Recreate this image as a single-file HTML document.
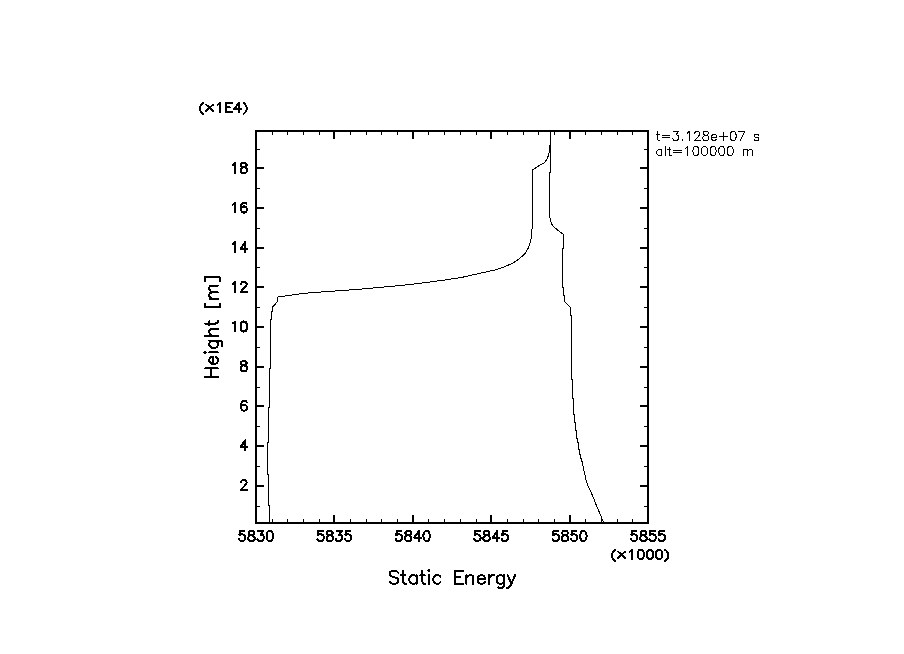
<!DOCTYPE html>
<html><head><meta charset="utf-8"><style>
html,body{margin:0;padding:0;background:#fff;width:904px;height:654px;overflow:hidden}
svg{display:block}
</style></head><body>
<svg width="904" height="654" viewBox="0 0 904 654">
<rect width="904" height="654" fill="#fff"/>
<g fill="#000" shape-rendering="crispEdges">
<rect x="255" y="130" width="394" height="2"/>
<rect x="255" y="522" width="394" height="2"/>
<rect x="255" y="130" width="2" height="394"/>
<rect x="647" y="130" width="2" height="394"/>
<rect x="257" y="506" width="3" height="1"/>
<rect x="644" y="506" width="3" height="1"/>
<rect x="257" y="485" width="7" height="2"/>
<rect x="640" y="485" width="7" height="2"/>
<rect x="257" y="466" width="3" height="1"/>
<rect x="644" y="466" width="3" height="1"/>
<rect x="257" y="445" width="7" height="2"/>
<rect x="640" y="445" width="7" height="2"/>
<rect x="257" y="426" width="3" height="1"/>
<rect x="644" y="426" width="3" height="1"/>
<rect x="257" y="405" width="7" height="2"/>
<rect x="640" y="405" width="7" height="2"/>
<rect x="257" y="387" width="3" height="1"/>
<rect x="644" y="387" width="3" height="1"/>
<rect x="257" y="366" width="7" height="2"/>
<rect x="640" y="366" width="7" height="2"/>
<rect x="257" y="347" width="3" height="1"/>
<rect x="644" y="347" width="3" height="1"/>
<rect x="257" y="326" width="7" height="2"/>
<rect x="640" y="326" width="7" height="2"/>
<rect x="257" y="307" width="3" height="1"/>
<rect x="644" y="307" width="3" height="1"/>
<rect x="257" y="286" width="7" height="2"/>
<rect x="640" y="286" width="7" height="2"/>
<rect x="257" y="267" width="3" height="1"/>
<rect x="644" y="267" width="3" height="1"/>
<rect x="257" y="247" width="7" height="2"/>
<rect x="640" y="247" width="7" height="2"/>
<rect x="257" y="228" width="3" height="1"/>
<rect x="644" y="228" width="3" height="1"/>
<rect x="257" y="207" width="7" height="2"/>
<rect x="640" y="207" width="7" height="2"/>
<rect x="257" y="188" width="3" height="1"/>
<rect x="644" y="188" width="3" height="1"/>
<rect x="257" y="167" width="7" height="2"/>
<rect x="640" y="167" width="7" height="2"/>
<rect x="257" y="149" width="3" height="1"/>
<rect x="644" y="149" width="3" height="1"/>
<rect x="272" y="132" width="1" height="3"/>
<rect x="272" y="519" width="1" height="3"/>
<rect x="287" y="132" width="1" height="3"/>
<rect x="287" y="519" width="1" height="3"/>
<rect x="303" y="132" width="1" height="3"/>
<rect x="303" y="519" width="1" height="3"/>
<rect x="319" y="132" width="1" height="3"/>
<rect x="319" y="519" width="1" height="3"/>
<rect x="333" y="132" width="2" height="7"/>
<rect x="333" y="515" width="2" height="7"/>
<rect x="350" y="132" width="1" height="3"/>
<rect x="350" y="519" width="1" height="3"/>
<rect x="366" y="132" width="1" height="3"/>
<rect x="366" y="519" width="1" height="3"/>
<rect x="381" y="132" width="1" height="3"/>
<rect x="381" y="519" width="1" height="3"/>
<rect x="397" y="132" width="1" height="3"/>
<rect x="397" y="519" width="1" height="3"/>
<rect x="412" y="132" width="2" height="7"/>
<rect x="412" y="515" width="2" height="7"/>
<rect x="428" y="132" width="1" height="3"/>
<rect x="428" y="519" width="1" height="3"/>
<rect x="444" y="132" width="1" height="3"/>
<rect x="444" y="519" width="1" height="3"/>
<rect x="460" y="132" width="1" height="3"/>
<rect x="460" y="519" width="1" height="3"/>
<rect x="476" y="132" width="1" height="3"/>
<rect x="476" y="519" width="1" height="3"/>
<rect x="490" y="132" width="2" height="7"/>
<rect x="490" y="515" width="2" height="7"/>
<rect x="507" y="132" width="1" height="3"/>
<rect x="507" y="519" width="1" height="3"/>
<rect x="523" y="132" width="1" height="3"/>
<rect x="523" y="519" width="1" height="3"/>
<rect x="538" y="132" width="1" height="3"/>
<rect x="538" y="519" width="1" height="3"/>
<rect x="554" y="132" width="1" height="3"/>
<rect x="554" y="519" width="1" height="3"/>
<rect x="569" y="132" width="2" height="7"/>
<rect x="569" y="515" width="2" height="7"/>
<rect x="585" y="132" width="1" height="3"/>
<rect x="585" y="519" width="1" height="3"/>
<rect x="601" y="132" width="1" height="3"/>
<rect x="601" y="519" width="1" height="3"/>
<rect x="617" y="132" width="1" height="3"/>
<rect x="617" y="519" width="1" height="3"/>
<rect x="632" y="132" width="1" height="3"/>
<rect x="632" y="519" width="1" height="3"/>
</g>
<g fill="none" stroke="#000" stroke-width="1" shape-rendering="crispEdges">
<polyline points="269.50,523.00 269.50,505.50 268.50,505.50 268.50,474.00 267.50,474.00 267.50,442.00 268.50,442.00 268.50,407.00 269.50,407.00 269.50,368.00 270.50,368.00 270.50,319.00 271.50,319.00 271.50,311.00 272.50,311.00 272.50,307.00 273.50,306.00 277.50,301.60 277.50,297.30 280.00,296.50 282.00,296.50 289.00,295.50 295.00,294.50 302.50,293.50 314.00,292.50 328.40,291.50 342.50,290.50 355.80,289.50 367.60,288.50 378.50,287.50 389.60,286.50 400.00,285.50 411.00,284.50 417.30,283.50 425.90,282.50 433.90,281.50 441.20,280.50 448.20,279.50 454.80,278.50 461.10,277.50 467.00,276.30 478.00,273.70 487.90,271.50 496.50,269.60 502.50,267.60 507.20,265.60 513.10,262.90 517.80,259.90 522.40,256.00 525.10,253.30 527.10,249.80 528.00,248.50 529.20,245.50 530.20,242.50 531.20,238.50 531.60,232.00 532.10,228.00 532.50,225.00 532.50,170.00 535.00,168.50 540.30,164.70 544.10,163.20 546.40,160.10 547.90,157.00 548.70,153.60 549.60,150.90 549.80,145.20 550.50,143.30 550.50,131.00"/>
<polyline points="550.50,131.00 550.50,172.50 549.50,172.50 549.50,216.00 550.30,219.50 551.20,222.50 552.20,225.00 554.10,227.10 557.90,230.20 562.90,234.00 563.50,234.50 563.50,248.00 562.50,248.50 562.50,287.00 563.50,287.00 563.50,295.40 564.50,295.50 564.50,301.30 569.50,306.50 570.50,307.50 570.50,315.30 571.50,315.50 571.50,379.30 572.50,379.50 572.50,398.30 573.50,398.50 573.50,414.30 574.50,414.50 574.50,422.00 575.50,422.20 575.50,430.40 576.50,430.60 576.50,438.00 577.50,438.20 577.50,442.00 578.50,442.20 578.50,449.50 579.50,449.70 579.50,454.00 580.50,454.20 580.50,458.00 581.50,458.20 581.50,461.70 582.50,462.00 582.90,465.30 583.80,470.00 585.90,479.20 587.20,483.90 590.50,491.00 593.10,496.90 595.60,503.60 598.50,510.30 601.00,516.20 602.70,520.40 603.50,523.00"/>
</g>
<g fill="none" stroke="#000" stroke-width="2" stroke-linecap="round" stroke-linejoin="round" shape-rendering="crispEdges">
<polyline points="241.04,482.38 241.04,481.91 241.50,480.96 241.96,480.48 242.88,480.00 244.72,480.00 245.64,480.48 246.10,480.96 246.56,481.91 246.56,482.86 246.10,483.81 245.18,485.24 240.58,490.00 247.02,490.00"/>
<polyline points="245.18,440.38 240.58,447.04 247.48,447.04"/>
<polyline points="245.18,440.38 245.18,450.38"/>
<polyline points="246.56,402.18 246.10,401.23 244.72,400.75 243.80,400.75 242.42,401.23 241.50,402.66 241.04,405.04 241.04,407.42 241.50,409.32 242.42,410.27 243.80,410.75 244.26,410.75 245.64,410.27 246.56,409.32 247.02,407.89 247.02,407.42 246.56,405.99 245.64,405.04 244.26,404.56 243.80,404.56 242.42,405.04 241.50,405.99 241.04,407.42"/>
<polyline points="242.88,361.13 241.50,361.61 241.04,362.56 241.04,363.51 241.50,364.46 242.42,364.94 244.26,365.41 245.64,365.89 246.56,366.84 247.02,367.79 247.02,369.22 246.56,370.17 246.10,370.65 244.72,371.12 242.88,371.12 241.50,370.65 241.04,370.17 240.58,369.22 240.58,367.79 241.04,366.84 241.96,365.89 243.34,365.41 245.18,364.94 246.10,364.46 246.56,363.51 246.56,362.56 246.10,361.61 244.72,361.13 242.88,361.13"/>
<polyline points="232.76,323.41 233.68,322.93 235.06,321.50 235.06,331.50"/>
<polyline points="243.34,321.50 241.96,321.98 241.04,323.41 240.58,325.79 240.58,327.22 241.04,329.60 241.96,331.02 243.34,331.50 244.26,331.50 245.64,331.02 246.56,329.60 247.02,327.22 247.02,325.79 246.56,323.41 245.64,321.98 244.26,321.50 243.34,321.50"/>
<polyline points="232.76,283.78 233.68,283.31 235.06,281.88 235.06,291.88"/>
<polyline points="241.04,284.26 241.04,283.78 241.50,282.83 241.96,282.36 242.88,281.88 244.72,281.88 245.64,282.36 246.10,282.83 246.56,283.78 246.56,284.74 246.10,285.69 245.18,287.12 240.58,291.88 247.02,291.88"/>
<polyline points="232.76,244.16 233.68,243.68 235.06,242.25 235.06,252.25"/>
<polyline points="245.18,242.25 240.58,248.92 247.48,248.92"/>
<polyline points="245.18,242.25 245.18,252.25"/>
<polyline points="232.76,204.53 233.68,204.06 235.06,202.63 235.06,212.62"/>
<polyline points="246.56,204.06 246.10,203.10 244.72,202.63 243.80,202.63 242.42,203.10 241.50,204.53 241.04,206.91 241.04,209.29 241.50,211.20 242.42,212.15 243.80,212.62 244.26,212.62 245.64,212.15 246.56,211.20 247.02,209.77 247.02,209.29 246.56,207.87 245.64,206.91 244.26,206.44 243.80,206.44 242.42,206.91 241.50,207.87 241.04,209.29"/>
<polyline points="232.76,164.91 233.68,164.43 235.06,163.00 235.06,173.00"/>
<polyline points="242.88,163.00 241.50,163.48 241.04,164.43 241.04,165.38 241.50,166.34 242.42,166.81 244.26,167.29 245.64,167.76 246.56,168.72 247.02,169.67 247.02,171.10 246.56,172.05 246.10,172.52 244.72,173.00 242.88,173.00 241.50,172.52 241.04,172.05 240.58,171.10 240.58,169.67 241.04,168.72 241.96,167.76 243.34,167.29 245.18,166.81 246.10,166.34 246.56,165.38 246.56,164.43 246.10,163.48 244.72,163.00 242.88,163.00"/>
<polyline points="244.50,531.00 239.90,531.00 239.44,535.29 239.90,534.81 241.28,534.34 242.66,534.34 244.04,534.81 244.96,535.76 245.42,537.19 245.42,538.14 244.96,539.57 244.04,540.52 242.66,541.00 241.28,541.00 239.90,540.52 239.44,540.05 238.98,539.10"/>
<polyline points="250.48,531.00 249.10,531.48 248.64,532.43 248.64,533.38 249.10,534.34 250.02,534.81 251.86,535.29 253.24,535.76 254.16,536.72 254.62,537.67 254.62,539.10 254.16,540.05 253.70,540.52 252.32,541.00 250.48,541.00 249.10,540.52 248.64,540.05 248.18,539.10 248.18,537.67 248.64,536.72 249.56,535.76 250.94,535.29 252.78,534.81 253.70,534.34 254.16,533.38 254.16,532.43 253.70,531.48 252.32,531.00 250.48,531.00"/>
<polyline points="258.30,531.00 263.36,531.00 260.60,534.81 261.98,534.81 262.90,535.29 263.36,535.76 263.82,537.19 263.82,538.14 263.36,539.57 262.44,540.52 261.06,541.00 259.68,541.00 258.30,540.52 257.84,540.05 257.38,539.10"/>
<polyline points="269.34,531.00 267.96,531.48 267.04,532.91 266.58,535.29 266.58,536.72 267.04,539.10 267.96,540.52 269.34,541.00 270.26,541.00 271.64,540.52 272.56,539.10 273.02,536.72 273.02,535.29 272.56,532.91 271.64,531.48 270.26,531.00 269.34,531.00"/>
<polyline points="322.90,531.00 318.30,531.00 317.84,535.29 318.30,534.81 319.68,534.34 321.06,534.34 322.44,534.81 323.36,535.76 323.82,537.19 323.82,538.14 323.36,539.57 322.44,540.52 321.06,541.00 319.68,541.00 318.30,540.52 317.84,540.05 317.38,539.10"/>
<polyline points="328.88,531.00 327.50,531.48 327.04,532.43 327.04,533.38 327.50,534.34 328.42,534.81 330.26,535.29 331.64,535.76 332.56,536.72 333.02,537.67 333.02,539.10 332.56,540.05 332.10,540.52 330.72,541.00 328.88,541.00 327.50,540.52 327.04,540.05 326.58,539.10 326.58,537.67 327.04,536.72 327.96,535.76 329.34,535.29 331.18,534.81 332.10,534.34 332.56,533.38 332.56,532.43 332.10,531.48 330.72,531.00 328.88,531.00"/>
<polyline points="336.70,531.00 341.76,531.00 339.00,534.81 340.38,534.81 341.30,535.29 341.76,535.76 342.22,537.19 342.22,538.14 341.76,539.57 340.84,540.52 339.46,541.00 338.08,541.00 336.70,540.52 336.24,540.05 335.78,539.10"/>
<polyline points="350.50,531.00 345.90,531.00 345.44,535.29 345.90,534.81 347.28,534.34 348.66,534.34 350.04,534.81 350.96,535.76 351.42,537.19 351.42,538.14 350.96,539.57 350.04,540.52 348.66,541.00 347.28,541.00 345.90,540.52 345.44,540.05 344.98,539.10"/>
<polyline points="401.30,531.00 396.70,531.00 396.24,535.29 396.70,534.81 398.08,534.34 399.46,534.34 400.84,534.81 401.76,535.76 402.22,537.19 402.22,538.14 401.76,539.57 400.84,540.52 399.46,541.00 398.08,541.00 396.70,540.52 396.24,540.05 395.78,539.10"/>
<polyline points="407.28,531.00 405.90,531.48 405.44,532.43 405.44,533.38 405.90,534.34 406.82,534.81 408.66,535.29 410.04,535.76 410.96,536.72 411.42,537.67 411.42,539.10 410.96,540.05 410.50,540.52 409.12,541.00 407.28,541.00 405.90,540.52 405.44,540.05 404.98,539.10 404.98,537.67 405.44,536.72 406.36,535.76 407.74,535.29 409.58,534.81 410.50,534.34 410.96,533.38 410.96,532.43 410.50,531.48 409.12,531.00 407.28,531.00"/>
<polyline points="418.78,531.00 414.18,537.67 421.08,537.67"/>
<polyline points="418.78,531.00 418.78,541.00"/>
<polyline points="426.14,531.00 424.76,531.48 423.84,532.91 423.38,535.29 423.38,536.72 423.84,539.10 424.76,540.52 426.14,541.00 427.06,541.00 428.44,540.52 429.36,539.10 429.82,536.72 429.82,535.29 429.36,532.91 428.44,531.48 427.06,531.00 426.14,531.00"/>
<polyline points="479.70,531.00 475.10,531.00 474.64,535.29 475.10,534.81 476.48,534.34 477.86,534.34 479.24,534.81 480.16,535.76 480.62,537.19 480.62,538.14 480.16,539.57 479.24,540.52 477.86,541.00 476.48,541.00 475.10,540.52 474.64,540.05 474.18,539.10"/>
<polyline points="485.68,531.00 484.30,531.48 483.84,532.43 483.84,533.38 484.30,534.34 485.22,534.81 487.06,535.29 488.44,535.76 489.36,536.72 489.82,537.67 489.82,539.10 489.36,540.05 488.90,540.52 487.52,541.00 485.68,541.00 484.30,540.52 483.84,540.05 483.38,539.10 483.38,537.67 483.84,536.72 484.76,535.76 486.14,535.29 487.98,534.81 488.90,534.34 489.36,533.38 489.36,532.43 488.90,531.48 487.52,531.00 485.68,531.00"/>
<polyline points="497.18,531.00 492.58,537.67 499.48,537.67"/>
<polyline points="497.18,531.00 497.18,541.00"/>
<polyline points="507.30,531.00 502.70,531.00 502.24,535.29 502.70,534.81 504.08,534.34 505.46,534.34 506.84,534.81 507.76,535.76 508.22,537.19 508.22,538.14 507.76,539.57 506.84,540.52 505.46,541.00 504.08,541.00 502.70,540.52 502.24,540.05 501.78,539.10"/>
<polyline points="558.10,531.00 553.50,531.00 553.04,535.29 553.50,534.81 554.88,534.34 556.26,534.34 557.64,534.81 558.56,535.76 559.02,537.19 559.02,538.14 558.56,539.57 557.64,540.52 556.26,541.00 554.88,541.00 553.50,540.52 553.04,540.05 552.58,539.10"/>
<polyline points="564.08,531.00 562.70,531.48 562.24,532.43 562.24,533.38 562.70,534.34 563.62,534.81 565.46,535.29 566.84,535.76 567.76,536.72 568.22,537.67 568.22,539.10 567.76,540.05 567.30,540.52 565.92,541.00 564.08,541.00 562.70,540.52 562.24,540.05 561.78,539.10 561.78,537.67 562.24,536.72 563.16,535.76 564.54,535.29 566.38,534.81 567.30,534.34 567.76,533.38 567.76,532.43 567.30,531.48 565.92,531.00 564.08,531.00"/>
<polyline points="576.50,531.00 571.90,531.00 571.44,535.29 571.90,534.81 573.28,534.34 574.66,534.34 576.04,534.81 576.96,535.76 577.42,537.19 577.42,538.14 576.96,539.57 576.04,540.52 574.66,541.00 573.28,541.00 571.90,540.52 571.44,540.05 570.98,539.10"/>
<polyline points="582.94,531.00 581.56,531.48 580.64,532.91 580.18,535.29 580.18,536.72 580.64,539.10 581.56,540.52 582.94,541.00 583.86,541.00 585.24,540.52 586.16,539.10 586.62,536.72 586.62,535.29 586.16,532.91 585.24,531.48 583.86,531.00 582.94,531.00"/>
<polyline points="636.50,531.00 631.90,531.00 631.44,535.29 631.90,534.81 633.28,534.34 634.66,534.34 636.04,534.81 636.96,535.76 637.42,537.19 637.42,538.14 636.96,539.57 636.04,540.52 634.66,541.00 633.28,541.00 631.90,540.52 631.44,540.05 630.98,539.10"/>
<polyline points="642.48,531.00 641.10,531.48 640.64,532.43 640.64,533.38 641.10,534.34 642.02,534.81 643.86,535.29 645.24,535.76 646.16,536.72 646.62,537.67 646.62,539.10 646.16,540.05 645.70,540.52 644.32,541.00 642.48,541.00 641.10,540.52 640.64,540.05 640.18,539.10 640.18,537.67 640.64,536.72 641.56,535.76 642.94,535.29 644.78,534.81 645.70,534.34 646.16,533.38 646.16,532.43 645.70,531.48 644.32,531.00 642.48,531.00"/>
<polyline points="654.90,531.00 650.30,531.00 649.84,535.29 650.30,534.81 651.68,534.34 653.06,534.34 654.44,534.81 655.36,535.76 655.82,537.19 655.82,538.14 655.36,539.57 654.44,540.52 653.06,541.00 651.68,541.00 650.30,540.52 649.84,540.05 649.38,539.10"/>
<polyline points="664.10,531.00 659.50,531.00 659.04,535.29 659.50,534.81 660.88,534.34 662.26,534.34 663.64,534.81 664.56,535.76 665.02,537.19 665.02,538.14 664.56,539.57 663.64,540.52 662.26,541.00 660.88,541.00 659.50,540.52 659.04,540.05 658.58,539.10"/>
<polyline points="217.70,104.69 218.62,104.26 220.00,102.97 220.00,112.00"/>
<polyline points="225.98,102.97 225.98,112.00"/>
<polyline points="225.98,102.97 231.96,102.97"/>
<polyline points="225.98,107.27 229.66,107.27"/>
<polyline points="225.98,112.00 231.96,112.00"/>
<polyline points="238.86,102.97 234.26,108.99 241.16,108.99"/>
<polyline points="238.86,102.97 238.86,112.00"/>
<polyline points="243.46,102.88 244.38,103.56 245.30,104.60 246.22,105.98 246.68,107.70 246.68,109.08 246.22,110.81 245.30,112.19 244.38,113.22 243.46,113.92"/>
<polyline points="203.26,102.88 202.34,103.56 201.42,104.60 200.50,105.98 200.04,107.70 200.04,109.08 200.50,110.81 201.42,112.19 202.34,113.22 203.26,113.92"/>
<polyline points="206.14,104.70 213.04,110.80"/>
<polyline points="213.04,104.70 206.14,110.80"/>
<polyline points="629.70,551.69 630.62,551.26 632.00,549.97 632.00,559.00"/>
<polyline points="640.28,549.97 638.90,550.40 637.98,551.69 637.52,553.84 637.52,555.13 637.98,557.28 638.90,558.57 640.28,559.00 641.20,559.00 642.58,558.57 643.50,557.28 643.96,555.13 643.96,553.84 643.50,551.69 642.58,550.40 641.20,549.97 640.28,549.97"/>
<polyline points="649.48,549.97 648.10,550.40 647.18,551.69 646.72,553.84 646.72,555.13 647.18,557.28 648.10,558.57 649.48,559.00 650.40,559.00 651.78,558.57 652.70,557.28 653.16,555.13 653.16,553.84 652.70,551.69 651.78,550.40 650.40,549.97 649.48,549.97"/>
<polyline points="658.68,549.97 657.30,550.40 656.38,551.69 655.92,553.84 655.92,555.13 656.38,557.28 657.30,558.57 658.68,559.00 659.60,559.00 660.98,558.57 661.90,557.28 662.36,555.13 662.36,553.84 661.90,551.69 660.98,550.40 659.60,549.97 658.68,549.97"/>
<polyline points="665.12,549.88 666.04,550.57 666.96,551.60 667.88,552.98 668.34,554.71 668.34,556.09 667.88,557.81 666.96,559.19 666.04,560.23 665.12,560.91"/>
<polyline points="615.26,549.88 614.34,550.57 613.42,551.60 612.50,552.98 612.04,554.71 612.04,556.09 612.50,557.81 613.42,559.19 614.34,560.23 615.26,560.91"/>
<polyline points="618.14,551.70 625.04,557.80"/>
<polyline points="625.04,551.70 618.14,557.80"/>
<polyline points="398.20,572.73 396.98,571.50 395.13,570.88 392.67,570.88 390.82,571.50 389.60,572.73 389.60,573.96 390.21,575.19 390.82,575.80 392.06,576.42 395.75,577.65 396.98,578.26 397.59,578.88 398.20,580.11 398.20,581.95 396.98,583.18 395.13,583.80 392.67,583.80 390.82,583.18 389.60,581.95"/>
<polyline points="403.12,570.88 403.12,581.34 403.74,583.18 404.97,583.80 406.20,583.80"/>
<polyline points="401.28,575.19 405.58,575.19"/>
<polyline points="416.65,575.19 416.65,583.80"/>
<polyline points="416.65,577.03 415.43,575.80 414.19,575.19 412.35,575.19 411.12,575.80 409.89,577.03 409.27,578.88 409.27,580.11 409.89,581.95 411.12,583.18 412.35,583.80 414.19,583.80 415.43,583.18 416.65,581.95"/>
<polyline points="422.19,570.88 422.19,581.34 422.81,583.18 424.03,583.80 425.26,583.80"/>
<polyline points="420.35,575.19 424.65,575.19"/>
<polyline points="428.34,570.88 428.95,571.50 429.57,570.88 428.95,570.27 428.34,570.88"/>
<polyline points="428.95,575.19 428.95,583.80"/>
<polyline points="440.64,577.03 439.41,575.80 438.18,575.19 436.33,575.19 435.11,575.80 433.88,577.03 433.26,578.88 433.26,580.11 433.88,581.95 435.11,583.18 436.33,583.80 438.18,583.80 439.41,583.18 440.64,581.95"/>
<polyline points="454.78,570.88 454.78,583.80"/>
<polyline points="454.78,570.88 462.78,570.88"/>
<polyline points="454.78,577.03 459.70,577.03"/>
<polyline points="454.78,583.80 462.78,583.80"/>
<polyline points="466.47,575.19 466.47,583.80"/>
<polyline points="466.47,577.65 468.31,575.80 469.55,575.19 471.39,575.19 472.62,575.80 473.24,577.65 473.24,583.80"/>
<polyline points="477.54,578.88 484.92,578.88 484.92,577.65 484.31,576.42 483.69,575.80 482.46,575.19 480.62,575.19 479.38,575.80 478.15,577.03 477.54,578.88 477.54,580.11 478.15,581.95 479.38,583.18 480.62,583.80 482.46,583.80 483.69,583.18 484.92,581.95"/>
<polyline points="489.23,575.19 489.23,583.80"/>
<polyline points="489.23,578.88 489.84,577.03 491.07,575.80 492.30,575.19 494.14,575.19"/>
<polyline points="503.99,575.19 503.99,585.03 503.37,586.88 502.75,587.49 501.52,588.10 499.68,588.10 498.45,587.49"/>
<polyline points="503.99,577.03 502.75,575.80 501.52,575.19 499.68,575.19 498.45,575.80 497.22,577.03 496.61,578.88 496.61,580.11 497.22,581.95 498.45,583.18 499.68,583.80 501.52,583.80 502.75,583.18 503.99,581.95"/>
<polyline points="507.68,575.19 511.37,583.80"/>
<polyline points="515.05,575.19 511.37,583.80 510.13,586.26 508.90,587.49 507.68,588.10 507.06,588.10"/>
<polyline points="205.09,377.04 218.00,377.04"/>
<polyline points="205.09,368.43 218.00,368.43"/>
<polyline points="211.24,377.04 211.24,368.43"/>
<polyline points="213.08,364.12 213.08,356.75 211.85,356.75 210.62,357.36 210.00,357.98 209.39,359.20 209.39,361.05 210.00,362.28 211.24,363.51 213.08,364.12 214.31,364.12 216.16,363.51 217.38,362.28 218.00,361.05 218.00,359.20 217.38,357.98 216.16,356.75"/>
<polyline points="205.09,353.06 205.70,352.44 205.09,351.82 204.47,352.44 205.09,353.06"/>
<polyline points="209.39,352.44 218.00,352.44"/>
<polyline points="209.39,340.75 219.23,340.75 221.07,341.37 221.69,341.99 222.31,343.22 222.31,345.06 221.69,346.29"/>
<polyline points="211.24,340.75 210.00,341.99 209.39,343.22 209.39,345.06 210.00,346.29 211.24,347.52 213.08,348.13 214.31,348.13 216.16,347.52 217.38,346.29 218.00,345.06 218.00,343.22 217.38,341.99 216.16,340.75"/>
<polyline points="205.09,335.83 218.00,335.83"/>
<polyline points="211.85,335.83 210.00,333.99 209.39,332.76 209.39,330.92 210.00,329.69 211.85,329.07 218.00,329.07"/>
<polyline points="205.09,323.54 215.54,323.54 217.38,322.92 218.00,321.69 218.00,320.46"/>
<polyline points="209.39,325.38 209.39,321.07"/>
<polyline points="205.09,303.43 205.09,307.42 219.84,307.42 219.84,303.43"/>
<polyline points="209.39,299.12 218.00,299.12"/>
<polyline points="211.85,299.12 210.00,297.27 209.39,296.05 209.39,294.20 210.00,292.97 211.85,292.36 218.00,292.36"/>
<polyline points="211.85,292.36 210.00,290.51 209.39,289.28 209.39,287.44 210.00,286.20 211.85,285.59 218.00,285.59"/>
<polyline points="205.09,281.28 205.09,277.29 219.84,277.29 219.84,281.28"/>
</g>
<g fill="none" stroke="#000" stroke-width="1" stroke-linecap="round" stroke-linejoin="round" shape-rendering="crispEdges">
<polyline points="657.44,131.51 657.44,138.79 657.87,140.07 658.72,140.50 659.58,140.50"/>
<polyline points="656.16,134.51 659.15,134.51"/>
<polyline points="662.15,135.36 669.85,135.36"/>
<polyline points="662.15,137.93 669.85,137.93"/>
<polyline points="673.70,131.51 678.41,131.51 675.84,134.94 677.13,134.94 677.98,135.36 678.41,135.79 678.84,137.08 678.84,137.93 678.41,139.22 677.56,140.07 676.27,140.50 674.99,140.50 673.70,140.07 673.28,139.64 672.85,138.79"/>
<polyline points="682.26,139.64 681.84,140.07 682.26,140.50 682.69,140.07 682.26,139.64"/>
<polyline points="686.97,133.22 687.83,132.80 689.11,131.51 689.11,140.50"/>
<polyline points="694.68,133.65 694.68,133.22 695.10,132.37 695.53,131.94 696.39,131.51 698.10,131.51 698.96,131.94 699.38,132.37 699.81,133.22 699.81,134.08 699.38,134.94 698.53,136.22 694.25,140.50 700.24,140.50"/>
<polyline points="704.95,131.51 703.66,131.94 703.24,132.80 703.24,133.65 703.66,134.51 704.52,134.94 706.23,135.36 707.52,135.79 708.37,136.65 708.80,137.50 708.80,138.79 708.37,139.64 707.94,140.07 706.66,140.50 704.95,140.50 703.66,140.07 703.24,139.64 702.81,138.79 702.81,137.50 703.24,136.65 704.09,135.79 705.38,135.36 707.09,134.94 707.94,134.51 708.37,133.65 708.37,132.80 707.94,131.94 706.66,131.51 704.95,131.51"/>
<polyline points="711.37,137.08 716.50,137.08 716.50,136.22 716.08,135.36 715.65,134.94 714.79,134.51 713.51,134.51 712.65,134.94 711.80,135.79 711.37,137.08 711.37,137.93 711.80,139.22 712.65,140.07 713.51,140.50 714.79,140.50 715.65,140.07 716.50,139.22"/>
<polyline points="723.35,132.80 723.35,140.50"/>
<polyline points="719.50,136.65 727.20,136.65"/>
<polyline points="732.77,131.51 731.48,131.94 730.63,133.22 730.20,135.36 730.20,136.65 730.63,138.79 731.48,140.07 732.77,140.50 733.62,140.50 734.91,140.07 735.76,138.79 736.19,136.65 736.19,135.36 735.76,133.22 734.91,131.94 733.62,131.51 732.77,131.51"/>
<polyline points="744.75,131.51 740.47,140.50"/>
<polyline points="738.76,131.51 744.75,131.51"/>
<polyline points="758.88,135.79 758.45,134.94 757.16,134.51 755.88,134.51 754.60,134.94 754.17,135.79 754.60,136.65 755.45,137.08 757.59,137.50 758.45,137.93 758.88,138.79 758.88,139.22 758.45,140.07 757.16,140.50 755.88,140.50 754.60,140.07 754.17,139.22"/>
<polyline points="661.72,149.51 661.72,155.50"/>
<polyline points="661.72,150.79 660.86,149.94 660.01,149.51 658.72,149.51 657.87,149.94 657.01,150.79 656.58,152.08 656.58,152.93 657.01,154.22 657.87,155.07 658.72,155.50 660.01,155.50 660.86,155.07 661.72,154.22"/>
<polyline points="665.14,146.51 665.14,155.50"/>
<polyline points="669.00,146.51 669.00,153.79 669.42,155.07 670.28,155.50 671.14,155.50"/>
<polyline points="667.71,149.51 670.71,149.51"/>
<polyline points="673.70,150.36 681.41,150.36"/>
<polyline points="673.70,152.93 681.41,152.93"/>
<polyline points="685.69,148.22 686.54,147.80 687.83,146.51 687.83,155.50"/>
<polyline points="695.53,146.51 694.25,146.94 693.39,148.22 692.96,150.36 692.96,151.65 693.39,153.79 694.25,155.07 695.53,155.50 696.39,155.50 697.67,155.07 698.53,153.79 698.96,151.65 698.96,150.36 698.53,148.22 697.67,146.94 696.39,146.51 695.53,146.51"/>
<polyline points="704.09,146.51 702.81,146.94 701.95,148.22 701.52,150.36 701.52,151.65 701.95,153.79 702.81,155.07 704.09,155.50 704.95,155.50 706.23,155.07 707.09,153.79 707.52,151.65 707.52,150.36 707.09,148.22 706.23,146.94 704.95,146.51 704.09,146.51"/>
<polyline points="712.65,146.51 711.37,146.94 710.51,148.22 710.08,150.36 710.08,151.65 710.51,153.79 711.37,155.07 712.65,155.50 713.51,155.50 714.79,155.07 715.65,153.79 716.08,151.65 716.08,150.36 715.65,148.22 714.79,146.94 713.51,146.51 712.65,146.51"/>
<polyline points="721.21,146.51 719.93,146.94 719.07,148.22 718.64,150.36 718.64,151.65 719.07,153.79 719.93,155.07 721.21,155.50 722.07,155.50 723.35,155.07 724.21,153.79 724.64,151.65 724.64,150.36 724.21,148.22 723.35,146.94 722.07,146.51 721.21,146.51"/>
<polyline points="729.77,146.51 728.49,146.94 727.63,148.22 727.20,150.36 727.20,151.65 727.63,153.79 728.49,155.07 729.77,155.50 730.63,155.50 731.91,155.07 732.77,153.79 733.20,151.65 733.20,150.36 732.77,148.22 731.91,146.94 730.63,146.51 729.77,146.51"/>
<polyline points="743.04,149.51 743.04,155.50"/>
<polyline points="743.04,151.22 744.32,149.94 745.18,149.51 746.46,149.51 747.32,149.94 747.75,151.22 747.75,155.50"/>
<polyline points="747.75,151.22 749.03,149.94 749.89,149.51 751.17,149.51 752.03,149.94 752.46,151.22 752.46,155.50"/>
</g>
</svg>
</body></html>
